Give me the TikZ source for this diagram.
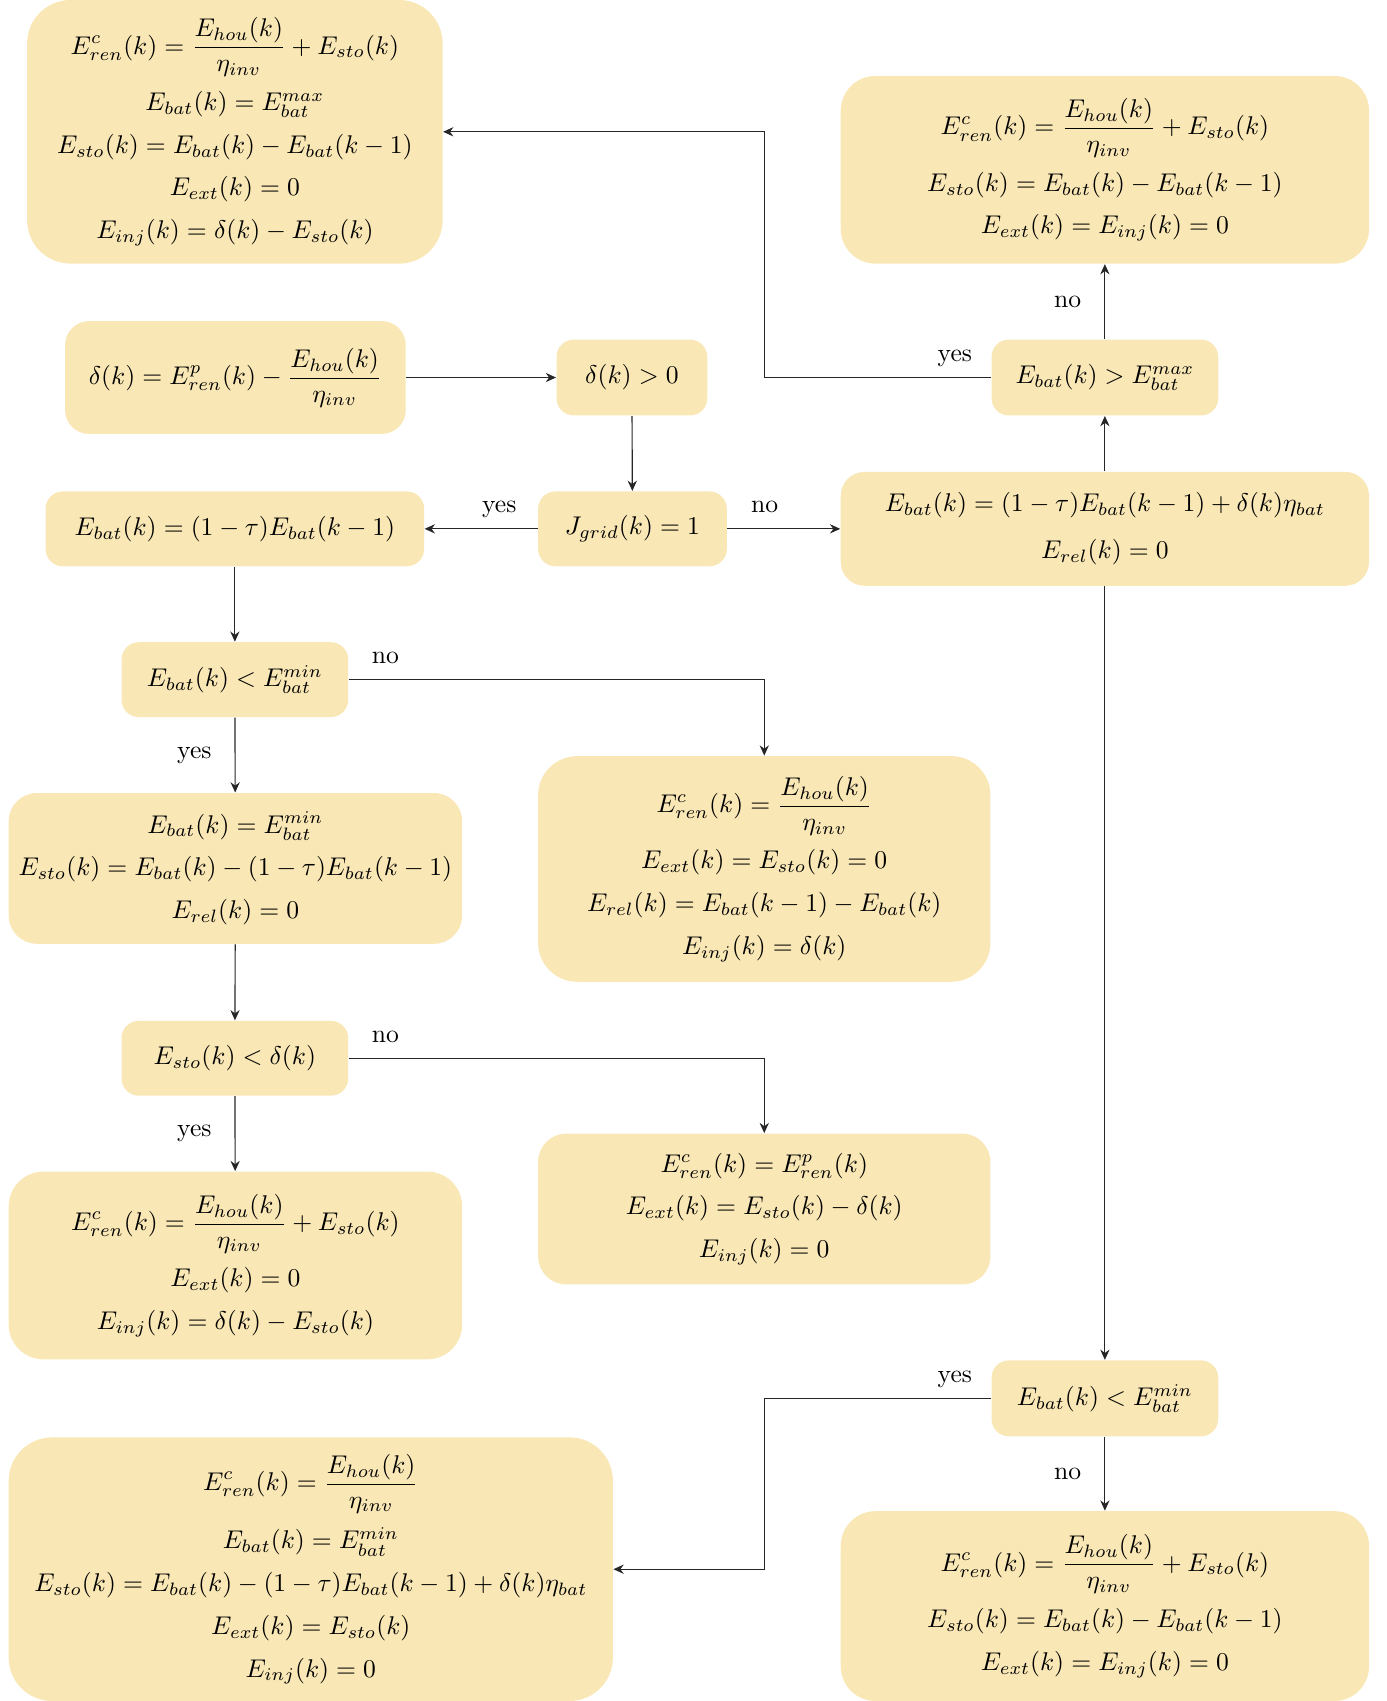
\documentclass[tikz,border=0pt]{standalone}
\usepackage{amsmath}
\usetikzlibrary{arrows.meta}
\definecolor{boxfill}{HTML}{F9E7B5}
\begin{document}
\begin{tikzpicture}[x=0.4237pt, y=-0.4237pt,
 box/.style={fill=boxfill, align=center, inner sep=0pt},
 sz/.style n args={3}{minimum width={#1*0.4237pt}, minimum height={#2*0.4237pt}, rounded corners={#3*0.4237pt}},
 arr/.style={draw=black!85, line width=0.45pt, -{Stealth[length=4pt,width=3.6pt]}},
 labu/.style={anchor=base, inner sep=0pt, yshift=6.2pt},
 labl/.style={left, inner sep=9pt}]
\useasboundingbox (0,0) rectangle (1278,1568);

\node[box, sz={383}{243}{40}] (A) at (216.5,121.5) {$\displaystyle E^{c}_{ren}(k)=\frac{E_{hou}(k)}{\eta_{inv}}+E_{sto}(k)$\\[4.7pt]
 $E_{bat}(k)=E^{max}_{bat}$\\[4.7pt]
 $E_{sto}(k)=E_{bat}(k)-E_{bat}(k-1)$\\[4.7pt]
 $E_{ext}(k)=0$\\[4.7pt]
 $E_{inj}(k)=\delta(k)-E_{sto}(k)$};

\node[box, sz={487}{173}{32}] (B) at (1018.5,156.5) {$\displaystyle E^{c}_{ren}(k)=\frac{E_{hou}(k)}{\eta_{inv}}+E_{sto}(k)$\\[4.7pt]
 $E_{sto}(k)=E_{bat}(k)-E_{bat}(k-1)$\\[4.7pt]
 $E_{ext}(k)=E_{inj}(k)=0$};

\node[box, sz={314}{104}{22}] (C) at (217,348) {$\displaystyle \delta(k)=E^{p}_{ren}(k)-\frac{E_{hou}(k)}{\eta_{inv}}$};

\node[box, sz={139}{70}{16}] (D) at (582.5,348) {$\delta(k)>0$};

\node[box, sz={209}{70}{16}] (E) at (1018.5,348) {$E_{bat}(k)>E^{max}_{bat}$};

\node[box, sz={349}{69}{16}] (F) at (216.5,487.5) {$E_{bat}(k)=(1-\tau)E_{bat}(k-1)$};

\node[box, sz={174}{69}{16}] (G) at (583,487.5) {$J_{grid}(k)=1$};

\node[box, sz={487}{105}{22}] (H) at (1018.5,487.5) {$E_{bat}(k)=(1-\tau)E_{bat}(k-1)+\delta(k)\eta_{bat}$\\[6.3pt]
 $E_{rel}(k)=0$};

\node[box, sz={209}{69}{16}] (I) at (216.5,626.5) {$E_{bat}(k)<E^{min}_{bat}$};

\node[box, sz={418}{139}{26}] (J) at (217,800.5) {$E_{bat}(k)=E^{min}_{bat}$\\[4.7pt]
 $E_{sto}(k)=E_{bat}(k)-(1-\tau)E_{bat}(k-1)$\\[4.7pt]
 $E_{rel}(k)=0$};

\node[box, sz={417}{208}{36}] (K) at (704.5,801) {$\displaystyle E^{c}_{ren}(k)=\frac{E_{hou}(k)}{\eta_{inv}}$\\[4.7pt]
 $E_{ext}(k)=E_{sto}(k)=0$\\[4.7pt]
 $E_{rel}(k)=E_{bat}(k-1)-E_{bat}(k)$\\[4.7pt]
 $E_{inj}(k)=\delta(k)$};

\node[box, sz={209}{69}{16}] (L) at (216.5,975.5) {$E_{sto}(k)<\delta(k)$};

\node[box, sz={418}{173}{32}] (M) at (217,1166.5) {$\displaystyle E^{c}_{ren}(k)=\frac{E_{hou}(k)}{\eta_{inv}}+E_{sto}(k)$\\[4.7pt]
 $E_{ext}(k)=0$\\[4.7pt]
 $E_{inj}(k)=\delta(k)-E_{sto}(k)$};

\node[box, sz={417}{139}{26}] (N) at (704.5,1114.5) {$E^{c}_{ren}(k)=E^{p}_{ren}(k)$\\[4.7pt]
 $E_{ext}(k)=E_{sto}(k)-\delta(k)$\\[4.7pt]
 $E_{inj}(k)=0$};

\node[box, sz={209}{70}{16}] (O) at (1018.5,1289) {$E_{bat}(k)<E^{min}_{bat}$};

\node[box, sz={557}{243}{40}] (P) at (286.5,1446.5) {$\displaystyle E^{c}_{ren}(k)=\frac{E_{hou}(k)}{\eta_{inv}}$\\[4.7pt]
 $E_{bat}(k)=E^{min}_{bat}$\\[4.7pt]
 $E_{sto}(k)=E_{bat}(k)-(1-\tau)E_{bat}(k-1)+\delta(k)\eta_{bat}$\\[4.7pt]
 $E_{ext}(k)=E_{sto}(k)$\\[4.7pt]
 $E_{inj}(k)=0$};

\node[box, sz={487}{175}{32}] (Q) at (1018.5,1480.5) {$\displaystyle E^{c}_{ren}(k)=\frac{E_{hou}(k)}{\eta_{inv}}+E_{sto}(k)$\\[4.7pt]
 $E_{sto}(k)=E_{bat}(k)-E_{bat}(k-1)$\\[4.7pt]
 $E_{ext}(k)=E_{inj}(k)=0$};

\coordinate (c1) at (705,348);
\coordinate (c3) at (705,1289);

\draw[arr] (C) -- (D);
\draw[arr] (D) -- (G);
\draw[arr] (G) -- node[labu, pos=0.34] {yes} (F);
\draw[arr] (G) -- node[labu, pos=0.33] {no} (H);
\draw[arr] (H) -- (E);
\draw[arr] (E) -- node[labl] {no} (B);
\draw[arr] (E) -- node[labu, pos=0.16] {yes} (c1) |- (A);
\draw[arr] (F) -- (I);
\draw[arr] (I) -- node[labl] {yes} (J);
\draw[arr] (I) -| node[labu, pos=0.044] {no} (K);
\draw[arr] (J) -- (L);
\draw[arr] (L) -- node[labl] {yes} (M);
\draw[arr] (L) -| node[labu, pos=0.044] {no} (N);
\draw[arr] (H) -- (O);
\draw[arr] (O) -- node[labl] {no} (Q);
\draw[arr] (O) -- node[labu, pos=0.16] {yes} (c3) |- (P);
\end{tikzpicture}
\end{document}
